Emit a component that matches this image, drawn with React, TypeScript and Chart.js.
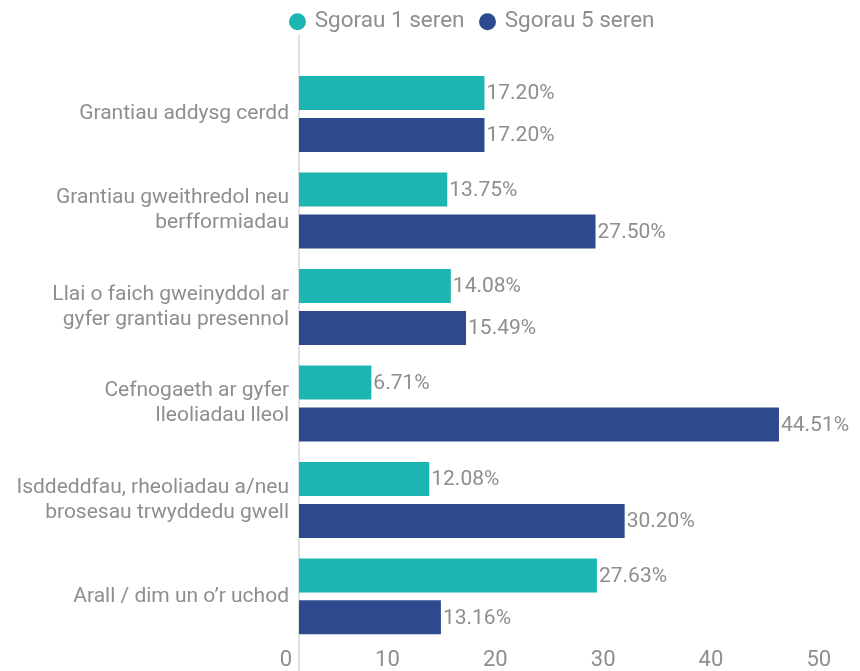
import React, { useEffect, useRef } from "react";
import { Chart, registerables } from "chart.js";

Chart.register(...registerables);

const categories: (string | string[])[] = [
  "Grantiau addysg cerdd",
  ["Grantiau gweithredol neu", "berfformiadau"],
  ["Llai o faich gweinyddol ar", "gyfer grantiau presennol"],
  ["Cefnogaeth ar gyfer", "lleoliadau lleol"],
  ["Isddeddfau, rheoliadau a/neu", "brosesau trwyddedu gwell"],
  "Arall / dim un o\u2019r uchod",
];

const seriesNames = ["Sgorau 1 seren", "Sgorau 5 seren"];
const oneStar = [17.2, 13.75, 14.08, 6.71, 12.08, 27.63];
const fiveStar = [17.2, 27.5, 15.49, 44.51, 30.2, 13.16];
const xTicksMin = 0;
const xTicksMax = 60;
const xTickStep = 10;

const TEAL = "#1cb6b2";
const NAVY = "#2e4a8e";
const GREY = "#8e8e8e";
const FONT = "Roboto, 'Noto Sans', sans-serif";

const valueLabels = {
  id: "valueLabels",
  afterDatasetsDraw(chart: any) {
    const ctx = chart.ctx;
    ctx.save();
    ctx.font = `21px ${FONT}`;
    ctx.fillStyle = GREY;
    ctx.textAlign = "left";
    ctx.textBaseline = "middle";
    chart.data.datasets.forEach((ds: any, di: number) => {
      const meta = chart.getDatasetMeta(di);
      meta.data.forEach((el: any, i: number) => {
        const v = ds.data[i] as number;
        ctx.fillText(v.toFixed(2) + "%", el.x + 2, el.y + 1);
      });
    });
    ctx.restore();
  },
};

const zeroLine = {
  id: "zeroLine",
  beforeDatasetsDraw(chart: any) {
    const ctx = chart.ctx;
    const x = chart.scales.x.getPixelForValue(0);
    ctx.save();
    ctx.strokeStyle = "#e2e2e2";
    ctx.lineWidth = 2;
    ctx.beginPath();
    ctx.moveTo(x, chart.chartArea.top - 31);
    ctx.lineTo(x, chart.height);
    ctx.stroke();
    ctx.restore();
  },
};

export default function App() {
  const ref = useRef<HTMLCanvasElement | null>(null);

  useEffect(() => {
    if (!ref.current) return;
    const chart = new Chart(ref.current, {
      type: "bar",
      data: {
        labels: categories as any,
        datasets: [
          {
            label: seriesNames[0],
            data: oneStar,
            backgroundColor: TEAL,
            borderWidth: 0,
            categoryPercentage: 0.87,
            barPercentage: 0.81,
          },
          {
            label: seriesNames[1],
            data: fiveStar,
            backgroundColor: NAVY,
            borderWidth: 0,
            categoryPercentage: 0.87,
            barPercentage: 0.81,
          },
        ],
      },
      options: {
        indexAxis: "y",
        animation: false,
        responsive: true,
        maintainAspectRatio: false,
        layout: { padding: { top: -6.55, right: 4, left: 0, bottom: 0 } },
        plugins: {
          title: {
            display: true,
            text: "",
            padding: 0,
            weight: 500,
            font: { size: 20, lineHeight: 22.85 / 20 },
          } as any,
          legend: {
            position: "top",
            align: "center",
            labels: {
              usePointStyle: true,
              pointStyle: "circle",
              boxWidth: 12,
              boxHeight: 12,
              padding: 17,
              color: GREY,
              font: { family: FONT, size: 22.5 },
            },
          },
          tooltip: { enabled: false },
        },
        scales: {
          x: {
            type: "linear",
            position: "bottom",
            min: xTicksMin,
            max: xTicksMax,
            grid: { display: false, drawTicks: false },
            border: { display: false },
            ticks: {
              stepSize: xTickStep,
              align: "end",
              labelOffset: -7,
              padding: 3,
              color: GREY,
              font: { family: FONT, size: 22 },
            },
          },
          y: {
            type: "category",
            grid: { display: false, drawTicks: false },
            border: { display: false },
            ticks: {
              padding: 10,
              color: GREY,
              font: { family: FONT, size: 21 },
            },
            afterFit: (scale: any) => {
              scale.width = 299;
            },
          },
        },
      },
      plugins: [zeroLine, valueLabels],
    });
    return () => chart.destroy();
  }, []);

  return (
    <div
      style={{
        position: "fixed",
        left: 0,
        top: 0,
        width: 860,
        height: 671,
        overflow: "hidden",
        background: "#fff",
      }}
    >
      <div style={{ position: "relative", width: 950, height: 677 }}>
        <canvas ref={ref} />
      </div>
    </div>
  );
}
